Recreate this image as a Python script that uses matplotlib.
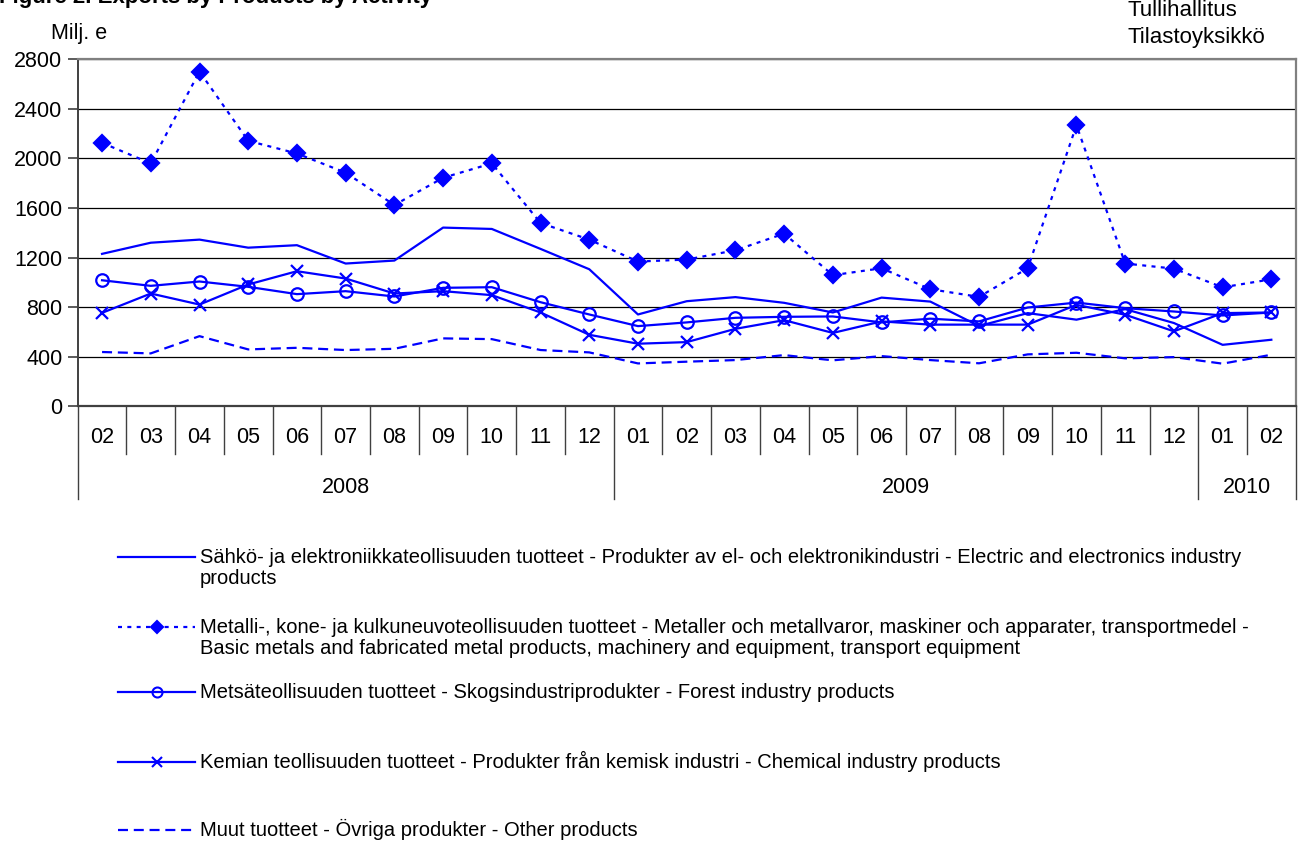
import numpy as np
import matplotlib
matplotlib.use("Agg")
import matplotlib.pyplot as plt
from matplotlib.lines import Line2D

plt.rcParams['font.family'] = ['Liberation Sans', 'DejaVu Sans']

# ---------------- data ----------------
months = ['02', '03', '04', '05', '06', '07', '08', '09', '10', '11', '12',
          '01', '02', '03', '04', '05', '06', '07', '08', '09', '10', '11', '12',
          '01', '02']
years = ['2008', '2009', '2010']
year_month_counts = [11, 12, 2]

electric = [1230, 1320, 1345, 1280, 1300, 1152, 1176, 1442, 1431, 1270, 1106,
            741, 848, 881, 835, 757, 877, 845, 648, 752, 699, 784, 672, 496, 537]
metal = [2126, 1960, 2701, 2142, 2040, 1885, 1624, 1844, 1960, 1479, 1345,
         1168, 1184, 1259, 1393, 1058, 1114, 945, 883, 1114, 2268, 1152, 1111, 960, 1025]
forest = [1017, 972, 1007, 964, 905, 929, 886, 956, 961, 840, 741,
          647, 677, 714, 722, 725, 677, 707, 685, 797, 837, 792, 765, 733, 757]
chemical = [754, 910, 821, 983, 1090, 1031, 910, 929, 897, 757, 577,
            505, 518, 625, 695, 592, 685, 659, 659, 659, 819, 739, 605, 752, 757]
other = [438, 427, 566, 459, 472, 454, 464, 548, 542, 454, 435,
         346, 360, 373, 413, 371, 405, 373, 347, 419, 432, 387, 397, 344, 416]

legend_labels = [
    ["Sähkö- ja elektroniikkateollisuuden tuotteet - Produkter av el- och elektronikindustri - Electric and electronics industry",
     "products"],
    ["Metalli-, kone- ja kulkuneuvoteollisuuden tuotteet - Metaller och metallvaror, maskiner och apparater, transportmedel -",
     "Basic metals and fabricated metal products, machinery and equipment, transport equipment"],
    ["Metsäteollisuuden tuotteet - Skogsindustriprodukter - Forest industry products"],
    ["Kemian teollisuuden tuotteet - Produkter från kemisk industri - Chemical industry products"],
    ["Muut tuotteet - Övriga produkter - Other products"],
]
yticks = [0, 400, 800, 1200, 1600, 2000, 2400, 2800]

# ---------------- figure ----------------
W, H = 1300, 841
fig = plt.figure(figsize=(W / 100, H / 100), dpi=100)
fig.patch.set_facecolor('white')

def fx(px):
    return px / W

def fy(py):
    return 1 - py / H

ax_l, ax_r, ax_t, ax_b = 77.7, 1295.7, 59.3, 406.3
ax = fig.add_axes([fx(ax_l), fy(ax_b), fx(ax_r - ax_l), (ax_b - ax_t) / H])

BLUE = '#0000FF'
LW = 1.6
x = np.arange(len(months)) + 0.5

styles = [
    dict(data=electric, ls='-', marker=None, ms=0, mfc=BLUE, dashes=None),
    dict(data=metal, ls='--', marker='D', ms=8.0, mfc=BLUE, dashes=(1.8, 2.4)),
    dict(data=forest, ls='-', marker='o', ms=9.0, mfc='none', dashes=None),
    dict(data=chemical, ls='-', marker='x', ms=8.5, mfc=BLUE, dashes=None),
    dict(data=other, ls='--', marker=None, ms=0, mfc=BLUE, dashes=(4.5, 2.6)),
]

for st in styles:
    kw = dict(color=BLUE, lw=LW, ls=st['ls'], marker=st['marker'],
              markersize=st['ms'], markerfacecolor=st['mfc'],
              markeredgecolor=BLUE, markeredgewidth=1.6, zorder=3,
              clip_on=False)
    line, = ax.plot(x, st['data'], **kw)
    if st['dashes'] is not None:
        line.set_dashes(st['dashes'])

ax.set_xlim(0, len(months))
ax.set_ylim(0, 2800)
ax.set_yticks(yticks)
ax.set_yticklabels([str(v) for v in yticks], fontsize=15.5)
ax.tick_params(axis='y', length=7, width=1.2, direction='out', pad=4,
               color='#404040', labelcolor='black')
ax.set_xticks([])
ax.yaxis.grid(True, color='black', lw=0.9)
ax.set_axisbelow(True)

for side in ['top', 'right']:
    ax.spines[side].set_color('#808080')
    ax.spines[side].set_linewidth(1.6)
ax.spines['left'].set_color('#404040')
ax.spines['left'].set_linewidth(1.4)
ax.spines['bottom'].set_color('#404040')
ax.spines['bottom'].set_linewidth(1.6)

# category axis (months and years)
tr = ax.get_xaxis_transform()
h_ax = ax_b - ax_t
month_y = -(437 - ax_b) / h_ax
year_y = -(487 - ax_b) / h_ax
sep_m = -(454 - ax_b) / h_ax
sep_y = -(499 - ax_b) / h_ax

for i, m in enumerate(months):
    ax.text(i + 0.5, month_y, m, transform=tr, ha='center', va='center',
            fontsize=15.5)

bounds = np.concatenate([[0], np.cumsum(year_month_counts)])
for i in range(1, len(months)):
    if i not in bounds:
        ax.plot([i, i], [0, sep_m], transform=tr, color='#404040', lw=1.0,
                clip_on=False)
for b in bounds:
    ax.plot([b, b], [0, sep_y], transform=tr, color='#404040', lw=1.0,
            clip_on=False)
for yr, a, b in zip(years, bounds[:-1], bounds[1:]):
    ax.text((a + b) / 2, year_y, yr, transform=tr, ha='center', va='center',
            fontsize=15.5)

# texts
fig.text(fx(-1), fy(3), "Figure 2. Exports by Products by Activity",
         fontsize=16, fontweight='bold', ha='left', va='baseline')
fig.text(fx(51), fy(39), "Milj. e", fontsize=15.5, ha='left', va='baseline')
fig.text(fx(1127), fy(16), "Tullihallitus", fontsize=16, ha='left', va='baseline')
fig.text(fx(1127), fy(43), "Tilastoyksikkö", fontsize=16, ha='left', va='baseline')

# legend (manual, Excel style)
leg_centers = [557, 627, 692, 762, 830]
line_gap = 21
for st, labels, yc in zip(styles, legend_labels, leg_centers):
    h = Line2D([fx(118), fx(195)], [fy(yc), fy(yc)], transform=fig.transFigure,
               color=BLUE, lw=LW, ls=st['ls'])
    if st['dashes'] is not None:
        h.set_dashes(st['dashes'])
    fig.add_artist(h)
    if st['marker']:
        mk = Line2D([fx(157)], [fy(yc)], transform=fig.transFigure,
                    marker=st['marker'], markersize=st['ms'] * 0.8,
                    markerfacecolor=st['mfc'], markeredgecolor=BLUE,
                    markeredgewidth=1.5, ls='none')
        fig.add_artist(mk)
    for k, txt in enumerate(labels):
        fig.text(fx(200), fy(yc + 6 + k * line_gap), txt, fontsize=14.5,
                 ha='left', va='baseline')

fig.savefig('out.png', dpi=100, facecolor='white')
